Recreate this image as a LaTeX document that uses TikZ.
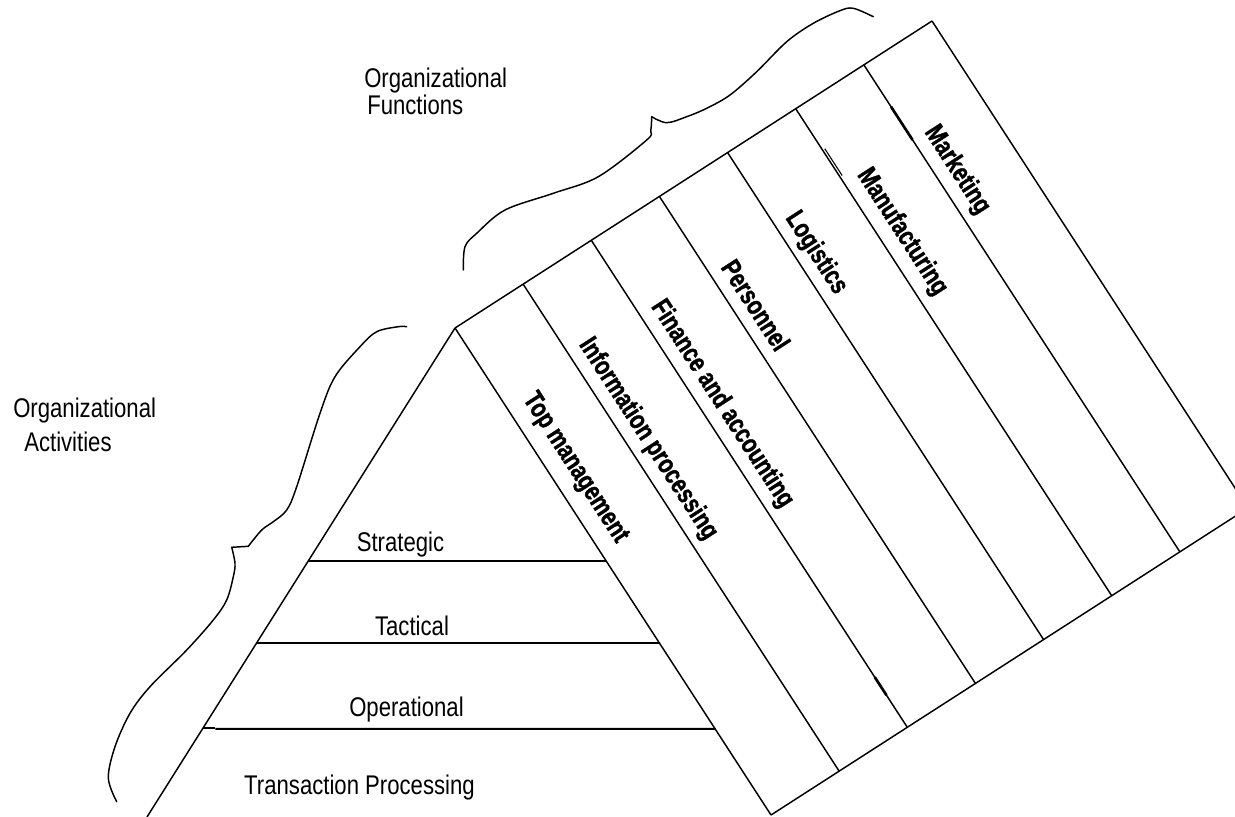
\documentclass[tikz,border=0pt]{standalone}
\usepackage{fontspec}
\newfontfamily\lblf{Liberation Sans}[FakeStretch=0.82]
\newfontfamily\stripf{Liberation Sans Bold}[FakeStretch=0.78,FakeBold=1.2]
\usetikzlibrary{calc}
\begin{document}
\begin{tikzpicture}[x=0.75pt,y=-0.75pt,
  edge/.style={line width=1.1pt},
  levelline/.style={line width=1.5pt},
  brace/.style={line width=1.1pt, line join=round, line cap=round},
  lvl/.style={font=\lblf\fontsize{20.25pt}{22pt}\selectfont, inner sep=0pt, anchor=base},
  func/.style={font=\stripf\fontsize{20.25pt}{22pt}\selectfont, inner sep=0pt, rotate=-57.1, anchor=center},
  title/.style={font=\lblf\fontsize{20.25pt}{#1}\selectfont, inner sep=0pt, anchor=north west, align=left},
]
\fill[white] (0,0) rectangle (1235,817);
\useasboundingbox (0,0) rectangle (1235,817);
\begin{scope}
\clip (0,0) rectangle (1235,817);
% frame
\coordinate (A) at (455,328);
\coordinate (L) at (147,817);
\coordinate (R) at (771,815);
\coordinate (TE) at (932,21);
\coordinate (BE) at ($(R)+(TE)-(A)$);
\foreach \i in {0,...,7}{
  \coordinate (T\i) at ($(A)!\i/7!(TE)$);
  \coordinate (B\i) at ($(R)!\i/7!(BE)$);
  \draw[edge] (T\i) -- (B\i);
}
\draw[edge] (A) -- (TE);
\draw[edge] (R) -- (BE);
\draw[edge] (A) -- (L);
% small marks on strip lines
\draw[line width=2pt] ($(T6)!0.086!(B6)$) -- ($(T6)!0.154!(B6)$);
\draw[line width=0.8pt] ($(T5)!0.085!(B5)+(2.2,-1.4)$) -- ($(T5)!0.140!(B5)+(2.2,-1.4)$);
\draw[line width=2pt] ($(T2)!0.897!(B2)$) -- ($(T2)!0.934!(B2)$);
% levels
\coordinate (sL) at (intersection cs: first line={(A)--(L)}, second line={(0,561)--(100,561)});
\coordinate (sR) at (intersection cs: first line={(A)--(R)}, second line={(0,561)--(100,561)});
\coordinate (tL) at (intersection cs: first line={(A)--(L)}, second line={(0,643)--(100,643)});
\coordinate (tR) at (intersection cs: first line={(A)--(R)}, second line={(0,643)--(100,643)});
\coordinate (oL) at (intersection cs: first line={(A)--(L)}, second line={(0,727.5)--(100,727.5)});
\coordinate (oR) at (intersection cs: first line={(A)--(R)}, second line={(0,728.8)--(100,728.8)});
\draw[levelline] (sL) -- (sR);
\draw[levelline] (tL) -- (tR);
\draw[levelline] (oL) -- ++(12,0);
\draw[levelline] ($(oL)+(12,1.3)$) -- (oR);
% braces
\draw[brace] plot[smooth,tension=0.55] coordinates {(463.3,270) (465,246.7) (476.7,233.3) (505,210) (553.3,193.3) (598.3,176.7) (646.7,140) (650.7,131) (651.7,116.7)};
\draw[brace] plot[smooth,tension=0.55] coordinates {(651.7,116.7) (666.7,122.7) (686.7,116.7) (706.7,108.3) (730,95) (756.7,71.7) (786.7,41.7) (813.3,23.3) (840,10.7) (853.3,8.3) (873.3,16.7)};
\draw[brace] plot[smooth,tension=0.55] coordinates {(406.7,326.7) (398.3,326.7) (376.7,331.7) (360,346.7) (335,376.7) (320,413.3) (296.7,486.7) (286.7,510) (273.3,521.7) (261.7,530) (248.3,546.3)} -- (231.7,547.3);
\draw[brace] plot[smooth,tension=0.55] coordinates {(231.7,547.3) (235,563.3) (233.3,576.7) (226.7,600) (213.3,620) (186.7,650) (150,686.7) (130,713.3) (115,746.7) (108.3,778) (116.7,801.7)};
\end{scope}
% labels
\node[lvl] (strat) at (400.5,551) {Strategic};
\node[lvl] (tact) at (412,635) {Tactical};
\node[lvl] (oper) at (406.5,716) {Operational};
\node[lvl] (trans) at (359.5,794) {Transaction Processing};
\node[title=18.75pt] (ofun) at (364,68) {Organizational\\\hspace*{2.25pt}Functions};
\node[title=25.5pt] (oact) at (13,398) {Organizational\\\hspace*{8.25pt}Activities};
% functions
\node[func] (f1) at (575,468) {Top management};
\node[func] (f2) at (648,439) {Information processing};
\node[func] (f3) at (722,404) {Finance and accounting};
\node[func] (f4) at (756,305) {Personnel};
\node[func] (f5) at (816,253) {Logistics};
\node[func] (f6) at (902,232) {Manufacturing};
\node[func] (f7) at (957,170) {Marketing};
\end{tikzpicture}
\end{document}
